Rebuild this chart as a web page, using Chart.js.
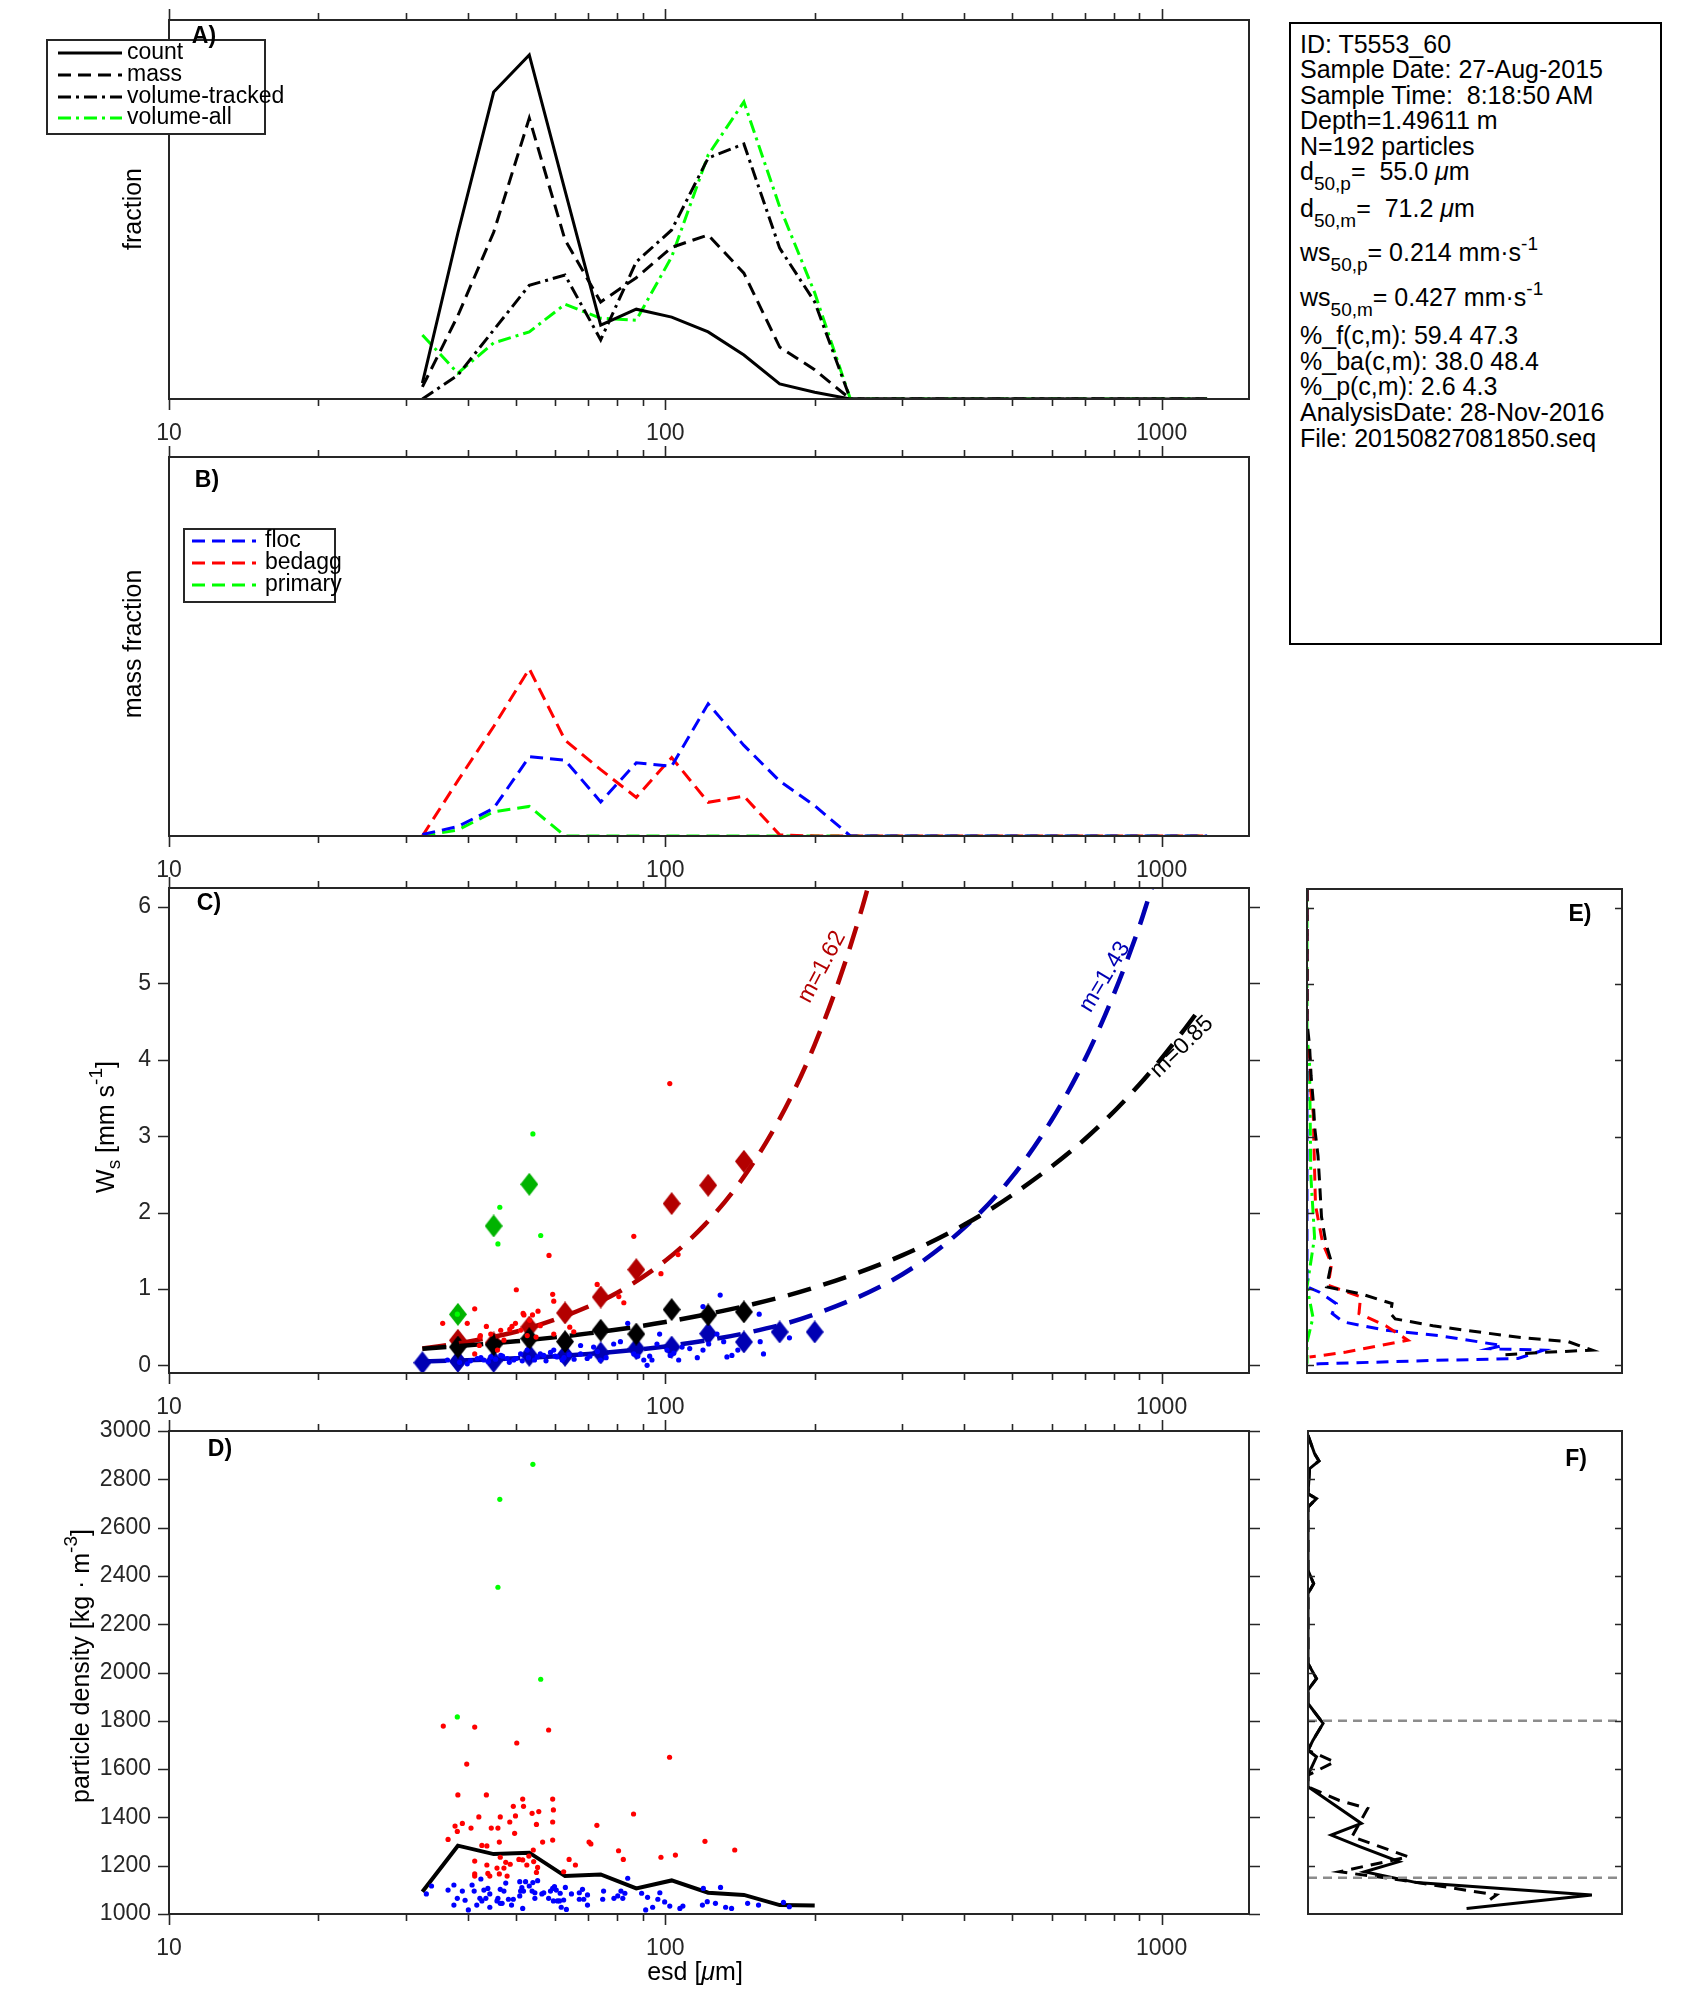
<!DOCTYPE html>
<html>
<head>
<meta charset="utf-8">
<script src="https://cdn.jsdelivr.net/npm/chart.js@4.4.1/dist/chart.umd.min.js"></script>
<style>
  body { margin: 0; background: #fff; width: 1694px; height: 2015px; position: relative; overflow: hidden;
         font-family: "Liberation Sans", Arial, sans-serif; }
  canvas { position: absolute; }
  #info { position: absolute; left: 1289px; top: 22px; width: 373px; height: 623px; border: 2px solid #000; box-sizing: border-box; }
  .ln { position: absolute; left: 9px; font-size: 25px; line-height: 25px; white-space: nowrap; color: #000; }
  .sb { font-size: 19px; position: relative; top: 10px; }
  .sp { font-size: 19px; position: relative; top: -11px; }
</style>
</head>
<body>
<canvas id="panelA"></canvas>
<canvas id="panelB"></canvas>
<canvas id="panelC"></canvas>
<canvas id="panelD"></canvas>
<canvas id="panelE"></canvas>
<canvas id="panelF"></canvas>
<div id="info">
  <div class="ln" style="top:8px">ID: T5553_60</div>
  <div class="ln" style="top:33px">Sample Date: 27-Aug-2015</div>
  <div class="ln" style="top:59px">Sample Time:&nbsp; 8:18:50 AM</div>
  <div class="ln" style="top:84px">Depth=1.49611 m</div>
  <div class="ln" style="top:110px">N=192 particles</div>
  <div class="ln" style="top:135px">d<span class="sb">50,p</span>=&nbsp; 55.0 <i>μ</i>m</div>
  <div class="ln" style="top:172px">d<span class="sb">50,m</span>=&nbsp; 71.2 <i>μ</i>m</div>
  <div class="ln" style="top:216px">ws<span class="sb">50,p</span>= 0.214 mm·s<span class="sp">-1</span></div>
  <div class="ln" style="top:261px">ws<span class="sb">50,m</span>= 0.427 mm·s<span class="sp">-1</span></div>
  <div class="ln" style="top:299px">%_f(c,m): 59.4 47.3</div>
  <div class="ln" style="top:325px">%_ba(c,m): 38.0 48.4</div>
  <div class="ln" style="top:350px">%_p(c,m): 2.6 4.3</div>
  <div class="ln" style="top:376px">AnalysisDate: 28-Nov-2016</div>
  <div class="ln" style="top:402px">File: 20150827081850.seq</div>
</div>
<script>
// ---- data ----
const esdBins = [32.4, 38.2, 45.1, 53.2, 62.8, 74.1, 87.4, 103, 122, 144, 170, 200, 236, 279, 329, 388, 458, 540, 637, 752, 887, 1047, 1235];

const countFrac   = [0.042, 0.438, 0.81, 0.908, 0.55, 0.195, 0.237, 0.216, 0.177, 0.116, 0.040, 0.018, 0, 0, 0, 0, 0, 0, 0, 0, 0, 0, 0];
const massFrac    = [0.032, 0.22, 0.44, 0.741, 0.42, 0.256, 0.32, 0.40, 0.433, 0.332, 0.137, 0.077, 0, 0, 0, 0, 0, 0, 0, 0, 0, 0, 0];
const volTracked  = [0, 0.063, 0.182, 0.30, 0.327, 0.156, 0.362, 0.446, 0.636, 0.673, 0.398, 0.256, 0, 0, 0, 0, 0, 0, 0, 0, 0, 0, 0];
const volAll      = [0.169, 0.068, 0.148, 0.177, 0.25, 0.213, 0.208, 0.375, 0.644, 0.784, 0.507, 0.28, 0, 0, 0, 0, 0, 0, 0, 0, 0, 0, 0];

const flocMass    = [0.004, 0.025, 0.073, 0.209, 0.2, 0.09, 0.193, 0.184, 0.349, 0.239, 0.145, 0.08, 0, 0, 0, 0, 0, 0, 0, 0, 0, 0, 0];
const bedaggMass  = [0, 0.146, 0.289, 0.441, 0.253, 0.175, 0.102, 0.207, 0.089, 0.105, 0.003, 0, 0, 0, 0, 0, 0, 0, 0, 0, 0, 0, 0];
const primaryMass = [0, 0.016, 0.064, 0.078, 0, 0, 0, 0, 0, 0, 0, 0, 0, 0, 0, 0, 0, 0, 0, 0, 0, 0, 0];

// binned settling velocity (diamonds), mm/s, aligned with esdBins
const wsFlocBin   = [0.035, 0.052, 0.052, 0.131, 0.131, 0.162, 0.218, 0.24, 0.415, 0.306, 0.437, 0.437];
const wsAllBin    = [null, 0.24, 0.27, 0.35, 0.31, 0.46, 0.41, 0.73, 0.66, 0.70];
const wsBedaggBin = [null, 0.328, 0.293, 0.502, 0.686, 0.895, 1.253, 2.118, 2.358, 2.672];
const wsPrimBin   = [null, 0.668, 1.825, 2.371];

// fitted power laws
const fitBedaggEsd = [32.4, 40, 50, 60, 70, 80, 100, 120, 140, 160, 180, 200, 225, 250, 260];
const fitBedaggWs  = [0.22, 0.31, 0.44, 0.60, 0.77, 0.95, 1.37, 1.84, 2.36, 2.93, 3.54, 4.20, 5.08, 6.02, 6.42];
const fitFlocEsd   = [32.4, 50, 70, 100, 150, 200, 300, 400, 500, 600, 700, 800, 900, 960, 1000];
const fitFlocWs    = [0.049, 0.092, 0.149, 0.248, 0.443, 0.668, 1.19, 1.80, 2.47, 3.21, 4.0, 4.85, 5.73, 6.29, 6.6];
const fitAllEsd    = [32.4, 50, 70, 100, 150, 200, 300, 400, 500, 700, 900, 1100, 1210];
const fitAllWs     = [0.217, 0.315, 0.419, 0.567, 0.80, 1.02, 1.44, 1.84, 2.23, 2.96, 3.67, 4.36, 4.72];
const fitLabels    = ["m=1.62", "m=1.43", "m=0.85"];

// individual particles, [esd, ws]
const wsPrimPts = [[54.1, 3.03], [46.4, 2.07], [46.0, 1.59], [56.1, 1.70], [38.1, 0.67]];
const wsBedaggPts = [[102.1, 3.69], [86.4, 1.69], [58.3, 1.44], [106.1, 1.45], [98.0, 1.20], [50.1, 0.99], [59.3, 0.93], [59.6, 0.84],
  [41.3, 0.74], [35.6, 0.55], [39.9, 0.55], [43.6, 0.51], [49.9, 0.55], [51.7, 0.68], [51.9, 0.66], [54.0, 0.66], [55.4, 0.71],
  [48.6, 0.47], [49.1, 0.51], [42.4, 0.39], [56.0, 0.52], [64.2, 0.50], [65.4, 0.44], [72.9, 1.06], [80.6, 0.90], [82.5, 0.82],
  [53.3, 0.59], [42.2, 0.26], [41.3, 0.15], [44.5, 0.41], [46.6, 0.46], [51.1, 0.46], [52.7, 0.39], [54.9, 0.37], [59.6, 0.41],
  [47.3, 0.33], [42.3, 0.37], [45.9, 0.20]];
const wsFlocPts = [[36.4, 0.07], [39.9, 0.02], [41.8, 0.09], [43.1, 0.07], [44.5, 0.11], [46.6, 0.13], [48.0, 0.09], [49.5, 0.07],
  [51.1, 0.15], [52.7, 0.20], [55.2, 0.11], [56.9, 0.13], [58.7, 0.17], [59.6, 0.20], [60.5, 0.11], [62.0, 0.07], [67.5, 0.15],
  [69.6, 0.09], [71.7, 0.24], [78.7, 0.28], [81.2, 0.31], [84.0, 0.55], [86.4, 0.15], [90.5, 0.07], [91.9, 0.0], [94.0, 0.07],
  [96.2, 0.28], [97.4, 0.41], [100.8, 0.20], [102.3, 0.13], [106.4, 0.07], [108.1, 0.24], [119.1, 0.77], [119.1, 0.20],
  [122.3, 0.28], [127.1, 0.41], [129.0, 0.92], [133.1, 0.11], [136.2, 0.13], [154.6, 0.67], [155.3, 0.31], [157.7, 0.15],
  [177.9, 0.36], [131.1, 0.31], [67.5, 0.26], [74.0, 0.07], [38.5, 0.04], [40.5, 0.06], [42.5, 0.10], [44.0, 0.05], [45.5, 0.08],
  [47.0, 0.12], [48.5, 0.04], [50.0, 0.09], [51.5, 0.06], [53.0, 0.10], [54.5, 0.07], [56.0, 0.15], [57.5, 0.06], [60.0, 0.12],
  [62.5, 0.10], [64.0, 0.14], [65.5, 0.08], [70.5, 0.12], [73.0, 0.18], [76.0, 0.10], [88.0, 0.12], [93.0, 0.12], [104, 0.16],
  [112, 0.22], [116, 0.10], [140, 0.20]];

// particle density (kg/m3), [esd, rho]
const rhoPrimPts = [[54.1, 2862], [46.4, 2717], [46.0, 2353], [56.1, 1972], [38.1, 1816]];
const rhoBedaggPts = [[35.7, 1778], [41.3, 1774], [58.2, 1762], [50.2, 1708], [39.8, 1621], [102, 1649], [38.2, 1493], [43.6, 1493],
  [59.3, 1476], [51.6, 1476], [49.4, 1446], [51.8, 1446], [59.5, 1431], [55.6, 1424], [53.9, 1417], [86.3, 1414], [42.1, 1402],
  [46.5, 1402], [49.9, 1406], [48.6, 1381], [59.3, 1381], [55.0, 1371], [72.8, 1367], [37.7, 1364], [39.0, 1375], [40.6, 1356],
  [44.6, 1356], [46.0, 1356], [38.1, 1342], [49.7, 1334], [36.5, 1309], [59.3, 1306], [70.2, 1298], [70.8, 1290], [56.6, 1298],
  [46.3, 1298], [120.2, 1301], [42.7, 1284], [43.7, 1282], [138, 1265], [80.5, 1262], [54.2, 1265], [104.8, 1244], [53.1, 1240],
  [46.5, 1235], [50.7, 1226], [51.6, 1224], [64.0, 1226], [82.3, 1226], [98.0, 1235], [41.3, 1219], [47.7, 1214], [54.3, 1217],
  [48.7, 1206], [55.3, 1193], [43.7, 1203], [45.8, 1190], [52.6, 1203], [65.9, 1203], [62.4, 1175], [47.3, 1190], [55.0, 1172],
  [43.9, 1168], [46.3, 1166], [41.3, 1166], [41.3, 1157], [44.3, 1157], [48.0, 1157]];
const rhoFlocPts = [[33.0, 1083], [33.8, 1116], [36.5, 1099], [37.5, 1120], [37.5, 1037], [38.1, 1065], [39.0, 1095], [39.5, 1057],
  [40.1, 1017], [40.8, 1120], [41.2, 1095], [41.7, 1037], [42.5, 1145], [42.3, 1065], [42.7, 1054], [43.1, 1099], [43.5, 1065],
  [43.9, 1106], [44.3, 1083], [44.3, 1028], [45.8, 1054], [46.0, 1065], [46.5, 1102], [46.5, 1044], [46.9, 1044], [47.3, 1095],
  [47.7, 1128], [48.3, 1061], [49.0, 1037], [49.4, 1061], [50.9, 1134], [50.9, 1075], [51.1, 1095], [51.4, 1109], [51.6, 1023],
  [51.8, 1095], [52.3, 1134], [53.2, 1116], [53.9, 1095], [54.1, 1130], [54.6, 1088], [54.6, 1065], [55.3, 1138], [56.4, 1083],
  [56.9, 1088], [58.2, 1065], [58.7, 1095], [59.3, 1106], [59.5, 1054], [59.8, 1113], [60.3, 1099], [60.6, 1054], [61.2, 1054],
  [61.4, 1086], [61.7, 1028], [62.4, 1058], [62.9, 1110], [63.2, 1019], [64.7, 1083], [67.1, 1088], [67.1, 1061], [68.1, 1102],
  [68.5, 1061], [69.7, 1079], [69.7, 1037], [74.8, 1061], [75.1, 1095], [78.8, 1065], [80.2, 1075], [81.4, 1095], [82.1, 1065],
  [82.9, 1086], [84.0, 1148], [89.6, 1086], [91.3, 1017], [92.1, 1069], [94.3, 1028], [96.6, 1061], [97.5, 1088], [99.7, 1050],
  [102.1, 1033], [107.0, 1023], [108.5, 1033], [118.8, 1037], [119.3, 1106], [121.5, 1051], [126.2, 1044], [129.2, 1110],
  [132.3, 1028], [136.0, 1023], [146.5, 1044], [154.1, 1037], [173.0, 1048], [177.8, 1030]];
const rhoMeanBin = [1092, 1283, 1248, 1254, 1157, 1164, 1106, 1139, 1088, 1079, 1037, 1035];

// E) ws distributions: [fraction, ws]
const eAll = [[0, 6.25], [0, 4.5], [0.008, 4.2], [0.013, 3.8], [0.02, 3.45], [0.025, 3.1], [0.035, 2.75], [0.04, 2.4], [0.046, 1.95],
  [0.06, 1.6], [0.078, 1.35], [0.062, 1.03], [0.17, 0.94], [0.27, 0.81], [0.265, 0.68], [0.28, 0.61], [0.4, 0.52], [0.54, 0.44],
  [0.69, 0.36], [0.83, 0.31], [0.905, 0.2], [0.75, 0.17], [0.63, 0.14]];
const eBedagg = [[0, 6.25], [0, 4.3], [0.01, 4.0], [0.012, 3.6], [0.02, 3.3], [0.022, 2.9], [0.027, 2.1], [0.05, 1.6], [0.078, 1.33],
  [0.067, 1.05], [0.17, 0.9], [0.165, 0.68], [0.25, 0.52], [0.32, 0.33], [0.125, 0.175], [0.05, 0.13], [0.008, 0.11]];
const eFloc = [[0, 6.25], [0, 1.03], [0.04, 0.96], [0.093, 0.81], [0.08, 0.68], [0.115, 0.57], [0.25, 0.46], [0.42, 0.39], [0.62, 0.26],
  [0.58, 0.22], [0.75, 0.2], [0.67, 0.09], [0.4, 0.065], [0.04, 0.02], [0.005, 0.01]];
const ePrim = [[0, 6.25], [0, 4.3], [0.008, 4.0], [0.012, 2.5], [0.024, 1.68], [0, 1.03], [0.019, 0.63], [0, 0.3], [0, 0.15], [0, 0.02]];

// F) density distributions: [fraction, rho]
const fCount = [[0, 2982], [0.021, 2906], [0.035, 2876], [0.005, 2844], [0, 2740], [0.027, 2720], [0, 2685], [0, 2423], [0.018, 2368],
  [0, 2327], [0, 2037], [0.027, 1975], [0, 1927], [0, 1872], [0.048, 1789], [0.016, 1720], [0, 1678], [0.027, 1651], [0, 1575],
  [0, 1527], [0.17, 1375], [0.074, 1327], [0.165, 1279], [0.29, 1217], [0.18, 1175], [0.346, 1130], [0.904, 1079], [0.505, 1023]];
const fMass = [[0, 2982], [0.021, 2906], [0.035, 2876], [0.005, 2844], [0, 2740], [0.027, 2720], [0, 2685], [0, 2423], [0.018, 2368],
  [0, 2327], [0, 2037], [0.027, 1975], [0, 1927], [0, 1872], [0.048, 1789], [0.016, 1720], [0, 1678], [0.085, 1630], [0, 1575],
  [0, 1527], [0.1, 1470], [0.19, 1437], [0.14, 1320], [0.32, 1237], [0.1, 1175], [0.3, 1140], [0.6, 1079], [0.58, 1060]];
const rhoLimits = [1800, 1150];

const esdTicks = [10, 20, 30, 40, 50, 60, 70, 80, 90, 100, 200, 300, 400, 500, 600, 700, 800, 900, 1000];
const esdLabeled = [10, 100, 1000];
const wsTicks = [0, 1, 2, 3, 4, 5, 6];
const rhoTicks = [1000, 1200, 1400, 1600, 1800, 2000, 2200, 2400, 2600, 2800, 3000];
const rhoInnerTicks = [1200, 1400, 1600, 1800, 2000, 2200, 2400, 2600, 2800];

// ---- styling helpers ----
const FONT = "'Liberation Sans', Arial, sans-serif";
const AX = "#262626";
Chart.defaults.font.family = FONT;
Chart.defaults.color = AX;

const FRAMES = {};

function fontStr(p) {
  return `${p.italic ? "italic " : ""}${p.bold ? "bold " : ""}${p.size || 23}px ${FONT}`;
}

function drawRich(ctx, it, ox, oy) {
  ctx.save();
  ctx.translate(it.x - ox, it.y - oy);
  if (it.rot) ctx.rotate(it.rot * Math.PI / 180);
  let total = 0;
  const widths = it.parts.map((p) => { ctx.font = fontStr(p); const w = ctx.measureText(p.t).width; total += w; return w; });
  let x = it.align === "left" ? 0 : -total / 2;
  ctx.textBaseline = "middle";
  it.parts.forEach((p, i) => {
    ctx.font = fontStr(p);
    ctx.fillStyle = p.color || it.color || AX;
    ctx.fillText(p.t, x, p.dy || 0);
    x += widths[i];
  });
  ctx.restore();
}

const framePlugin = {
  id: "frame",
  afterDraw(chart) {
    const f = FRAMES[chart.canvas.id];
    if (!f) return;
    const { ctx, chartArea: a } = chart;
    ctx.save();
    ctx.strokeStyle = AX;
    ctx.lineWidth = 1.6;
    (f.ticks || []).forEach((t) => {
      const sc = chart.scales[t.scale];
      const s = t.inward ? -1 : 1;
      t.values.forEach((v) => {
        const len = t.major && t.major.includes(v) ? t.majorLen : t.len;
        const p = Math.round(sc.getPixelForValue(v)) + 0.5;
        ctx.beginPath();
        if (sc.isHorizontal()) {
          ctx.moveTo(p, a.bottom); ctx.lineTo(p, a.bottom + s * len);
          ctx.moveTo(p, a.top); ctx.lineTo(p, a.top - s * len);
        } else {
          ctx.moveTo(a.left, p); ctx.lineTo(a.left - s * len, p);
          ctx.moveTo(a.right, p); ctx.lineTo(a.right + s * len, p);
        }
        ctx.stroke();
      });
    });
    ctx.lineWidth = 2;
    ctx.strokeRect(Math.round(a.left), Math.round(a.top), Math.round(a.right - a.left), Math.round(a.bottom - a.top));
    if (f.legend) {
      const lg = f.legend;
      const [x1, y1, x2, y2] = lg.box;
      ctx.fillStyle = "#fff";
      ctx.fillRect(x1 - f.ox, y1 - f.oy, x2 - x1, y2 - y1);
      ctx.strokeStyle = AX;
      ctx.lineWidth = 2;
      ctx.strokeRect(x1 - f.ox, y1 - f.oy, x2 - x1, y2 - y1);
      lg.items.forEach((it) => {
        const ds = chart.data.datasets[it.ds];
        ctx.beginPath();
        ctx.setLineDash(ds.borderDash || []);
        ctx.strokeStyle = ds.borderColor;
        ctx.lineWidth = ds.borderWidth;
        ctx.moveTo(lg.x1 - f.ox, it.y - f.oy);
        ctx.lineTo(lg.x2 - f.ox, it.y - f.oy);
        ctx.stroke();
        ctx.setLineDash([]);
        ctx.fillStyle = "#000";
        ctx.font = `23px ${FONT}`;
        ctx.textBaseline = "middle";
        ctx.fillText(ds.label, lg.tx - f.ox, it.y - f.oy);
      });
    }
    (f.texts || []).forEach((it) => drawRich(ctx, it, f.ox, f.oy));
    ctx.restore();
  },
};
Chart.register(framePlugin);

// MATLAB-style diamond marker (taller than wide)
function diamondMarker(color, w, h) {
  const c = document.createElement("canvas");
  c.width = w; c.height = h;
  const g = c.getContext("2d");
  g.fillStyle = color;
  g.beginPath();
  g.moveTo(w / 2, 0); g.lineTo(w, h / 2); g.lineTo(w / 2, h); g.lineTo(0, h / 2);
  g.closePath();
  g.fill();
  return c;
}

function pts(xs, ys) {
  return xs.map((x, i) => ({ x, y: ys[i] })).filter((p) => p.y !== null && p.y !== undefined);
}
function pairPts(list) {
  return list.map(([x, y]) => ({ x, y }));
}
function lineSet(label, data, color, width, dash, extra) {
  return Object.assign({ label, data, borderColor: color, backgroundColor: color, borderWidth: width, borderDash: dash || [],
    showLine: true, pointRadius: 0, fill: false, tension: 0 }, extra || {});
}
function dotSet(data, color, r) {
  return { data, showLine: false, pointRadius: r || 2.6, pointStyle: "circle", backgroundColor: color, borderWidth: 0 };
}
function diamondSet(data, color) {
  return { data, showLine: false, pointRadius: 10, pointStyle: diamondMarker(color, 18, 23), backgroundColor: color, borderWidth: 0 };
}
function logX(height, labels) {
  return {
    type: "logarithmic", min: 10, max: 1500,
    afterBuildTicks: (s) => { s.ticks = esdTicks.map((v) => ({ value: v })); },
    afterFit: (s) => { s.height = height; s.paddingLeft = 0; s.paddingRight = 0; },
    grid: { display: false }, border: { display: false },
    ticks: { display: labels, autoSkip: false, maxRotation: 0, padding: 13, color: AX, font: { size: 23 },
             callback: (v) => (esdLabeled.includes(v) ? String(v) : "") },
  };
}
function linY(min, max, ticks) {
  return {
    type: "linear", min, max,
    afterBuildTicks: (s) => { s.ticks = ticks.map((v) => ({ value: v })); },
    afterFit: (s) => { s.width = 169; s.paddingTop = 0; s.paddingBottom = 0; },
    grid: { display: false }, border: { display: false },
    ticks: { padding: 10, color: AX, font: { size: 23 }, callback: (v) => String(v) },
  };
}
function makeChart(id, rect, cfg, frame) {
  const cv = document.getElementById(id);
  cv.width = rect[2]; cv.height = rect[3];
  cv.style.left = rect[0] + "px"; cv.style.top = rect[1] + "px";
  cv.style.width = rect[2] + "px"; cv.style.height = rect[3] + "px";
  FRAMES[id] = Object.assign({ ox: rect[0], oy: rect[1] }, frame);
  cfg.options = Object.assign({ responsive: false, animation: false, devicePixelRatio: 1, events: [],
    plugins: { legend: { display: false }, tooltip: { enabled: false } } }, cfg.options);
  return new Chart(cv, cfg);
}
const xTickSpec = { scale: "x", values: esdTicks, major: esdLabeled, len: 7, majorLen: 11 };
const DASH = [13, 7];
const DASHDOT = [13, 5, 3, 5];
const TITLE = 25;

// ---- A) size distributions ----
makeChart("panelA", [0, 0, 1280, 445], {
  type: "scatter",
  data: { datasets: [
    lineSet("count", pts(esdBins, countFrac), "#000000", 3),
    lineSet("mass", pts(esdBins, massFrac), "#000000", 3, DASH),
    lineSet("volume-tracked", pts(esdBins, volTracked), "#000000", 3, DASHDOT),
    lineSet("volume-all", pts(esdBins, volAll), "#00ff00", 3, DASHDOT),
  ] },
  options: {
    layout: { padding: { left: 169, top: 20, right: 31, bottom: 0 } },
    scales: { x: logX(46, true), y: { type: "linear", display: false, min: 0, max: 1 } },
  },
}, {
  ticks: [xTickSpec],
  legend: { box: [47, 40, 265, 134], x1: 58, x2: 122, tx: 127,
            items: [{ ds: 0, y: 53 }, { ds: 1, y: 75 }, { ds: 2, y: 97 }, { ds: 3, y: 118 }] },
  texts: [
    { x: 204, y: 37, parts: [{ t: "A)", bold: true }], color: "#000" },
    { x: 134, y: 209, rot: -90, parts: [{ t: "fraction", size: TITLE }], color: "#000" },
  ],
});

// ---- B) mass fraction by class ----
makeChart("panelB", [0, 445, 1280, 435], {
  type: "scatter",
  data: { datasets: [
    lineSet("floc", pts(esdBins, flocMass), "#0000ff", 3, DASH),
    lineSet("bedagg", pts(esdBins, bedaggMass), "#ff0000", 3, DASH),
    lineSet("primary", pts(esdBins, primaryMass), "#00ff00", 3, DASH),
  ] },
  options: {
    layout: { padding: { left: 169, top: 12, right: 31, bottom: 0 } },
    scales: { x: logX(44, true), y: { type: "linear", display: false, min: 0, max: 1 } },
  },
}, {
  ticks: [xTickSpec],
  legend: { box: [184, 529, 335, 602], x1: 192, x2: 256, tx: 265,
            items: [{ ds: 0, y: 541 }, { ds: 1, y: 563 }, { ds: 2, y: 585 }] },
  texts: [
    { x: 207, y: 481, parts: [{ t: "B)", bold: true }], color: "#000" },
    { x: 134, y: 644, rot: -90, parts: [{ t: "mass fraction", size: TITLE }], color: "#000" },
  ],
});

// ---- C) settling velocity ----
makeChart("panelC", [0, 870, 1280, 550], {
  type: "scatter",
  data: { datasets: [
    dotSet(pairPts(wsFlocPts), "#0000ff"),
    dotSet(pairPts(wsBedaggPts), "#ff0000"),
    dotSet(pairPts(wsPrimPts), "#00ff00"),
    lineSet("fit all", pts(fitAllEsd, fitAllWs), "#000000", 4.5, [24, 13], { cubicInterpolationMode: "monotone" }),
    lineSet("fit floc", pts(fitFlocEsd, fitFlocWs), "#0000b3", 4.5, [24, 13], { cubicInterpolationMode: "monotone" }),
    lineSet("fit bedagg", pts(fitBedaggEsd, fitBedaggWs), "#b30000", 4.5, [24, 13], { cubicInterpolationMode: "monotone" }),
    diamondSet(pts(esdBins, wsAllBin), "#000000"),
    diamondSet(pts(esdBins, wsFlocBin), "#0000b3"),
    diamondSet(pts(esdBins, wsBedaggBin), "#b30000"),
    diamondSet(pts(esdBins, wsPrimBin), "#00b300"),
  ] },
  options: {
    layout: { padding: { left: 0, top: 18, right: 31, bottom: 0 } },
    scales: { x: logX(47, true), y: linY(-0.1, 6.25, wsTicks) },
  },
}, {
  ticks: [xTickSpec, { scale: "y", values: wsTicks, len: 11 }],
  texts: [
    { x: 209, y: 904, parts: [{ t: "C)", bold: true }], color: "#000" },
    { x: 822, y: 967, rot: -62, parts: [{ t: fitLabels[0] }], color: "#b30000" },
    { x: 1105, y: 977, rot: -59, parts: [{ t: fitLabels[1] }], color: "#0000b3" },
    { x: 1182, y: 1047, rot: -44, parts: [{ t: fitLabels[2] }], color: "#000000" },
    { x: 107, y: 1127, rot: -90, color: "#000", parts: [
      { t: "W", size: TITLE }, { t: "s", size: 19, dy: 8 }, { t: " [mm s", size: TITLE }, { t: "-1", size: 19, dy: -10 },
      { t: "]", size: TITLE } ] },
  ],
});

// ---- D) particle density ----
makeChart("panelD", [0, 1415, 1280, 600], {
  type: "scatter",
  data: { datasets: [
    dotSet(pairPts(rhoFlocPts), "#0000ff"),
    dotSet(pairPts(rhoBedaggPts), "#ff0000"),
    dotSet(pairPts(rhoPrimPts), "#00ff00"),
    lineSet("mean density", pts(esdBins, rhoMeanBin), "#000000", 4),
  ] },
  options: {
    layout: { padding: { left: 0, top: 16, right: 31, bottom: 0 } },
    scales: { x: logX(101, true), y: linY(1000, 3000, rhoTicks) },
  },
}, {
  ticks: [xTickSpec, { scale: "y", values: rhoTicks, len: 11 }],
  texts: [
    { x: 220, y: 1450, parts: [{ t: "D)", bold: true }], color: "#000" },
    { x: 82, y: 1666, rot: -90, color: "#000", parts: [
      { t: "particle density [kg · m", size: TITLE }, { t: "-3", size: 19, dy: -10 }, { t: "]", size: TITLE } ] },
    { x: 695, y: 1973, color: "#000", parts: [
      { t: "esd [", size: TITLE }, { t: "μ", italic: true, size: TITLE }, { t: "m]", size: TITLE }] },
  ],
});

// ---- E) ws distributions ----
makeChart("panelE", [1280, 870, 414, 550], {
  type: "scatter",
  data: { datasets: [
    lineSet("all", pairPts(eAll), "#000000", 3, [12, 8]),
    lineSet("bedagg", pairPts(eBedagg), "#ff0000", 3, [12, 8]),
    lineSet("floc", pairPts(eFloc), "#0000ff", 3, [12, 8]),
    lineSet("primary", pairPts(ePrim), "#00ff00", 3, DASHDOT),
  ] },
  options: {
    layout: { padding: { left: 27, top: 19, right: 72, bottom: 47 } },
    scales: { x: { type: "linear", display: false, min: 0, max: 1 },
              y: { type: "linear", display: false, min: -0.1, max: 6.25 } },
  },
}, {
  ticks: [{ scale: "y", values: wsTicks, len: 7, inward: true }],
  texts: [{ x: 1580, y: 915, parts: [{ t: "E)", bold: true }], color: "#000" }],
});

// ---- F) density distributions ----
makeChart("panelF", [1280, 1415, 414, 600], {
  type: "scatter",
  data: { datasets: [
    lineSet("limit hi", pts([0, 1], [rhoLimits[0], rhoLimits[0]]), "#8c8c8c", 2.5, [9, 6]),
    lineSet("limit lo", pts([0, 1], [rhoLimits[1], rhoLimits[1]]), "#8c8c8c", 2.5, [9, 6]),
    lineSet("mass", pairPts(fMass), "#000000", 3, [12, 8]),
    lineSet("count", pairPts(fCount), "#000000", 3),
  ] },
  options: {
    layout: { padding: { left: 28, top: 16, right: 72, bottom: 101 } },
    scales: { x: { type: "linear", display: false, min: 0, max: 1 },
              y: { type: "linear", display: false, min: 1000, max: 3000 } },
  },
}, {
  ticks: [{ scale: "y", values: rhoInnerTicks, len: 7, inward: true }],
  texts: [{ x: 1576, y: 1460, parts: [{ t: "F)", bold: true }], color: "#000" }],
});
</script>
</body>
</html>
